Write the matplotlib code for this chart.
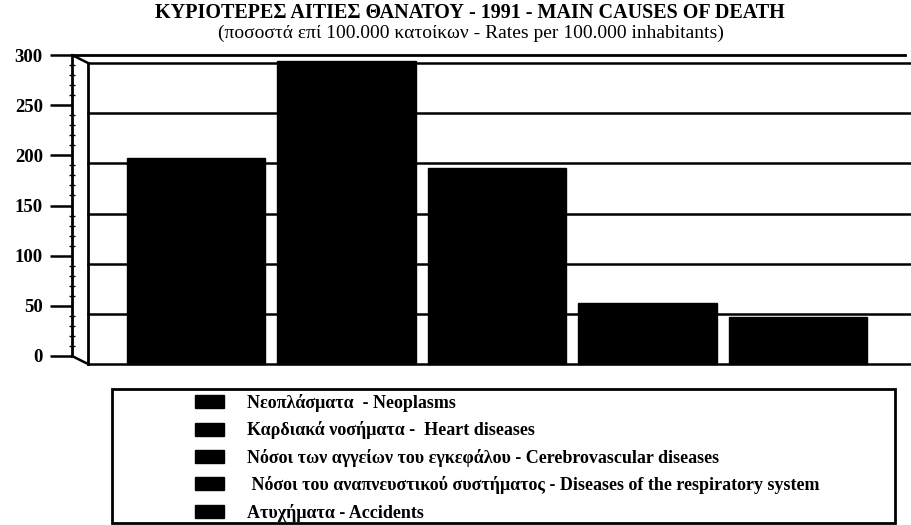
import matplotlib.pyplot as plt
from matplotlib.patches import Rectangle, ConnectionPatch

plt.rcParams['font.family'] = ['Liberation Serif', 'DejaVu Serif']

# Data (rates per 100.000 inhabitants, 1991)
causes = [
    "Νεοπλάσματα  - Neoplasms",
    "Καρδιακά νοσήματα -  Heart diseases",
    "Νόσοι των αγγείων του εγκεφάλου - Cerebrovascular diseases",
    " Νόσοι του αναπνευστικού συστήματος - Diseases of the respiratory system",
    "Ατυχήματα - Accidents",
]
rates = [205, 302, 195, 61, 47]
y_ticks = [0, 50, 100, 150, 200, 250, 300]

title = "ΚΥΡΙΟΤΕΡΕΣ ΑΙΤΙΕΣ ΘΑΝΑΤΟΥ - 1991 - MAIN CAUSES OF DEATH"
subtitle = "(ποσοστά επί 100.000 κατοίκων - Rates per 100.000 inhabitants)"

W, H = 912, 525
fig = plt.figure(figsize=(W / 100, H / 100), dpi=100)


def frac(x0, y_top, x1, y_bot):
    # pixel box -> figure fraction rect
    return [x0 / W, 1 - y_bot / H, (x1 - x0) / W, (y_bot - y_top) / H]


# back wall of the pseudo-3D chart: gridlines and bars
ax = fig.add_axes(frac(88, 63, 910, 364))
# front axis with the value labels
axf = fig.add_axes(frac(72, 55, 905, 356))
axf.patch.set_alpha(0)
ax.set_zorder(1)
axf.set_zorder(0)

bars = []
for i, (lab, val) in enumerate(zip(causes, rates)):
    b = ax.bar(i, val, width=0.92, color="black", edgecolor="black",
               label=lab, clip_on=False, zorder=3)
    bars.append(b)

ax.set_xlim(-0.718, 4.744)
ax.set_ylim(0, 300)
ax.set_yticks(y_ticks)
ax.set_yticklabels([])
ax.set_xticks([])
ax.tick_params(length=0)
ax.grid(axis="y", color="black", lw=1.8)
for gl in ax.get_ygridlines():
    gl.set_clip_on(False)
ax.set_axisbelow(True)
ax.patch.set_alpha(0)
for s in ["top", "right", "bottom"]:
    ax.spines[s].set_visible(False)
ax.spines["left"].set_linewidth(2)

axf.set_ylim(0, 300)
axf.set_yticks(y_ticks)
axf.set_yticks(range(0, 301, 10), minor=True)
axf.set_xticks([])
axf.tick_params(axis="y", which="major", length=16, width=1.8, pad=5,
                labelsize=13.5)
axf.tick_params(axis="y", which="minor", length=5, width=1, direction="inout")
for t in axf.get_yticklabels():
    t.set_fontweight("bold")
for s in ["right", "bottom"]:
    axf.spines[s].set_visible(False)
axf.spines["left"].set_linewidth(2)
axf.spines["top"].set_linewidth(2)

# side-wall edges joining front axis and back wall
for yy in (0, 1):
    con = ConnectionPatch((0, yy), (0, yy), coordsA="axes fraction",
                          coordsB="axes fraction", axesA=axf, axesB=ax,
                          color="black", lw=1.8)
    fig.add_artist(con)

fig.text(470 / W, 1 - 13 / H, title, ha="center", va="center",
         fontsize=14.5, fontweight="bold")
fig.text(471 / W, 1 - 33 / H, subtitle, ha="center", va="center",
         fontsize=14)

# legend with its own frame
fig.add_artist(Rectangle((112 / W, 1 - 523 / H), (895 - 112) / W,
                         (523 - 389) / H, transform=fig.transFigure,
                         fill=False, lw=2, color="black"))
fs = 13
fpx = fs * 100 / 72
leg = fig.legend(handles=bars, labels=causes, loc="upper left",
                 bbox_to_anchor=(195 / W, 1 - 394 / H), frameon=False,
                 borderpad=0, borderaxespad=0, handlelength=29 / fpx,
                 handleheight=13 / fpx, handletextpad=23 / fpx,
                 labelspacing=0.52, prop={"size": fs, "weight": "bold"})

fig.savefig("out.png", dpi=100)
